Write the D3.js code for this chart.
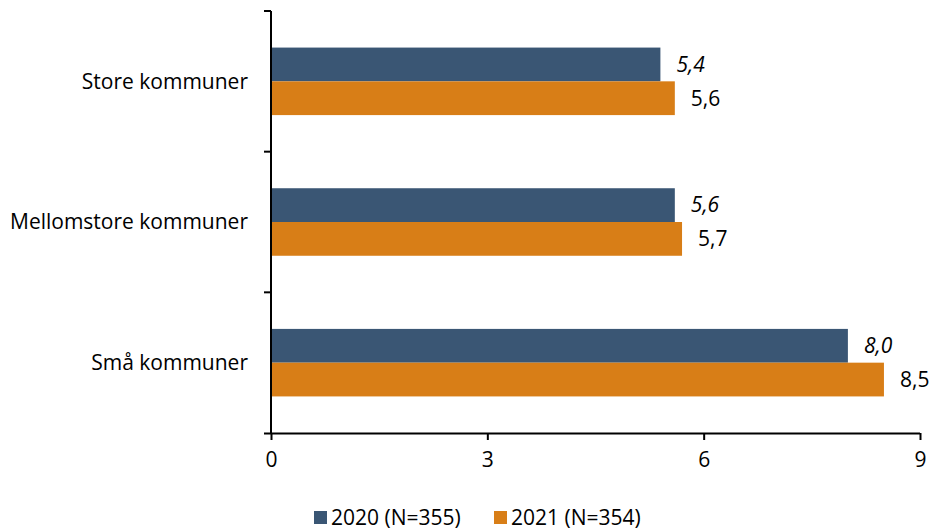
<!DOCTYPE html>
<html>
<head>
<meta charset="utf-8">
<script src="https://cdn.jsdelivr.net/npm/d3@7"></script>
<style>
  html, body { margin: 0; padding: 0; background: #fff; }
  svg { display: block; font-family: "Open Sans", Lato, sans-serif; }
</style>
</head>
<body>
<svg id="chart" width="933" height="532"></svg>
<script>
// Kommunestørrelse og gjennomsnitt per år
const categories = ["Store kommuner", "Mellomstore kommuner", "Små kommuner"];
const seriesNames = ["2020 (N=355)", "2021 (N=354)"];
const values2020 = [5.4, 5.6, 8.0];
const values2021 = [5.6, 5.7, 8.5];
const xTicks = [0, 3, 6, 9];
const colors = ["#3a5674", "#d87e17"];

const FONT = "'Open Sans', Lato, sans-serif";
const FS = 21;

const svg = d3.select("#chart");
const W = 933, H = 532;
const margin = { left: 271, right: 13, top: 11, bottom: 99 };

const x = d3.scaleLinear().domain([0, 9]).range([margin.left, W - margin.right]);
const y = d3.scaleBand().domain(categories).range([margin.top, H - margin.bottom])
  .paddingInner(0.52).paddingOuter(0.26);
const ySub = d3.scaleBand().domain([0, 1]).range([0, y.bandwidth()]);

const fmt = v => d3.format(".1f")(v).replace(".", ",");
const series = [values2020, values2021];

// Bars and value labels
series.forEach((vals, s) => {
  svg.append("g").selectAll("rect")
    .data(categories)
    .join("rect")
    .attr("x", x(0))
    .attr("y", c => y(c) + ySub(s))
    .attr("width", (c, i) => x(vals[i]) - x(0))
    .attr("height", ySub.bandwidth())
    .attr("fill", colors[s]);

  svg.append("g").selectAll("text")
    .data(categories)
    .join("text")
    .attr("x", (c, i) => x(vals[i]) + 16)
    .attr("y", c => y(c) + ySub(s) + ySub.bandwidth() / 2)
    .attr("dy", "0.35em")
    .attr("font-size", FS)
    .attr("font-style", s === 0 ? "italic" : "normal")
    .attr("fill", "#000")
    .text((c, i) => fmt(vals[i]));
});

// X axis
const xAxis = svg.append("g")
  .attr("transform", `translate(0,${H - margin.bottom})`)
  .call(d3.axisBottom(x).tickValues(xTicks).tickSize(7).tickSizeOuter(0).tickPadding(12)
    .tickFormat(d => d));
xAxis.select(".domain").attr("stroke", "#000").attr("stroke-width", 2)
  .attr("d", `M${x(0) - 7},0.5H${x(9)}`);
xAxis.selectAll(".tick line").attr("stroke", "#000").attr("stroke-width", 2);
xAxis.selectAll(".tick text").attr("font-size", FS).attr("fill", "#000")
  .attr("font-family", FONT);

// Y axis with ticks at band boundaries
const yTop = margin.top, yBot = H - margin.bottom;
const yg = svg.append("g");
yg.append("line").attr("x1", x(0)).attr("x2", x(0)).attr("y1", yTop).attr("y2", yBot)
  .attr("stroke", "#000").attr("stroke-width", 2);
const step = (yBot - yTop) / categories.length;
yg.selectAll("line.tk")
  .data(d3.range(categories.length))
  .join("line")
  .attr("class", "tk")
  .attr("x1", x(0) - 7).attr("x2", x(0))
  .attr("y1", i => yTop + i * step).attr("y2", i => yTop + i * step)
  .attr("stroke", "#000").attr("stroke-width", 2);

// Category labels
svg.append("g").selectAll("text")
  .data(categories)
  .join("text")
  .attr("x", x(0) - 23)
  .attr("y", c => y(c) + y.bandwidth() / 2)
  .attr("dy", "0.35em")
  .attr("text-anchor", "end")
  .attr("font-size", FS)
  .attr("fill", "#000")
  .text(c => c);

// Legend
const legendX = [314, 494];
const lg = svg.append("g");
seriesNames.forEach((name, i) => {
  lg.append("rect").attr("x", legendX[i]).attr("y", 511).attr("width", 13).attr("height", 13)
    .attr("fill", colors[i]);
  lg.append("text").attr("x", legendX[i] + 17).attr("y", 517.5).attr("dy", "0.35em")
    .attr("font-size", FS).attr("fill", "#000").text(name);
});
</script>
</body>
</html>
